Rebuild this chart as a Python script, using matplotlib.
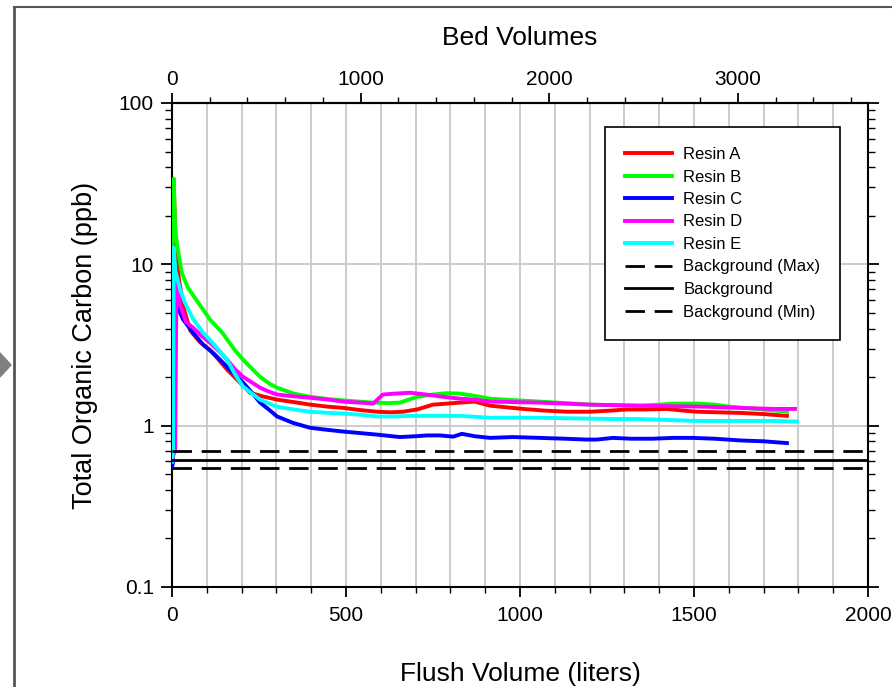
import matplotlib
matplotlib.use("Agg")
import matplotlib.pyplot as plt
from matplotlib.lines import Line2D
from matplotlib.patches import Polygon
from matplotlib.ticker import MultipleLocator, FixedLocator, NullFormatter, LogLocator

plt.rcParams['font.family'] = ['Liberation Sans', 'DejaVu Sans']

# ---------------- data ----------------
resin_a_x = [0, 3, 6, 10, 20, 35, 52, 80, 109, 135, 158, 190, 224, 260, 302, 350, 397, 450, 491, 540,
             589, 630, 664, 704, 750, 790, 828, 870, 914, 960, 1009, 1070, 1135, 1201, 1260, 1307, 1360,
             1422, 1470, 1509, 1570, 1632, 1700, 1767]
resin_a_y = [0.6, 12, 27, 13, 8, 5.2, 3.9, 3.3, 2.95, 2.55, 2.23, 1.9, 1.6, 1.52, 1.45, 1.40, 1.35, 1.31,
             1.29, 1.25, 1.22, 1.21, 1.22, 1.26, 1.35, 1.37, 1.39, 1.41, 1.33, 1.30, 1.27, 1.24, 1.22, 1.22,
             1.24, 1.26, 1.26, 1.27, 1.24, 1.22, 1.21, 1.20, 1.18, 1.15]

resin_b_x = [0, 2, 5, 9, 15, 28, 45, 75, 109, 144, 180, 204, 230, 253, 280, 302, 350, 397, 450, 500,
             578, 620, 655, 680, 704, 750, 790, 828, 870, 914, 980, 1057, 1130, 1201, 1270, 1345, 1400,
             1440, 1509, 1560, 1603, 1680, 1767]
resin_b_y = [0.6, 20, 34, 17, 13, 8.9, 7.2, 5.8, 4.55, 3.78, 2.95, 2.57, 2.25, 2.01, 1.82, 1.72, 1.58,
             1.51, 1.46, 1.43, 1.39, 1.38, 1.39, 1.45, 1.51, 1.56, 1.59, 1.58, 1.53, 1.47, 1.44, 1.41,
             1.38, 1.35, 1.34, 1.33, 1.35, 1.37, 1.37, 1.35, 1.31, 1.27, 1.22]

resin_c_x = [0, 3, 6, 12, 20, 32, 60, 89, 120, 158, 204, 230, 253, 280, 302, 348, 397, 450, 491, 540,
             589, 655, 700, 733, 770, 808, 833, 870, 914, 980, 1057, 1130, 1190, 1221, 1267, 1320, 1380,
             1440, 1497, 1560, 1632, 1700, 1767]
resin_c_y = [0.55, 0.6, 7.7, 6.0, 5.2, 4.55, 3.78, 3.18, 2.8, 2.32, 1.85, 1.6, 1.39, 1.25, 1.14, 1.04,
             0.97, 0.94, 0.92, 0.9, 0.88, 0.85, 0.86, 0.87, 0.87, 0.855, 0.89, 0.86, 0.84, 0.85, 0.84,
             0.83, 0.82, 0.82, 0.84, 0.83, 0.83, 0.84, 0.84, 0.83, 0.81, 0.80, 0.78]

resin_d_x = [0, 3, 9, 13, 23, 40, 60, 85, 109, 135, 158, 180, 204, 230, 253, 280, 302, 350, 397, 450,
             491, 540, 578, 590, 606, 640, 684, 730, 779, 828, 870, 914, 980, 1057, 1130, 1201, 1270,
             1345, 1440, 1537, 1630, 1727, 1790]
resin_d_y = [0.6, 0.65, 0.7, 8.4, 5.6, 4.4, 4.06, 3.6, 3.27, 2.9, 2.57, 2.25, 2.01, 1.85, 1.72, 1.62,
             1.56, 1.52, 1.49, 1.45, 1.41, 1.39, 1.37, 1.45, 1.56, 1.58, 1.60, 1.56, 1.51, 1.47, 1.45,
             1.41, 1.40, 1.39, 1.37, 1.35, 1.34, 1.33, 1.32, 1.31, 1.29, 1.27, 1.27]

resin_e_x = [0, 3, 5, 10, 23, 37, 60, 89, 120, 158, 180, 204, 230, 253, 280, 302, 350, 397, 450, 491,
             540, 589, 640, 684, 750, 828, 914, 990, 1057, 1150, 1267, 1330, 1393, 1450, 1509, 1600,
             1727, 1796]
resin_e_y = [0.6, 0.7, 12.7, 9.0, 7.0, 5.8, 4.6, 3.78, 3.2, 2.57, 2.1, 1.75, 1.58, 1.45, 1.37, 1.31,
             1.26, 1.22, 1.20, 1.19, 1.17, 1.14, 1.14, 1.15, 1.15, 1.15, 1.12, 1.12, 1.12, 1.11, 1.10,
             1.10, 1.09, 1.08, 1.07, 1.07, 1.07, 1.06]

background_max = 0.70
background_mean = 0.615
background_min = 0.548
bg_x = [0, 2000]

series_names = ['Resin A', 'Resin B', 'Resin C', 'Resin D', 'Resin E']
series_colors = ['#ff0000', '#00ff00', '#0000ff', '#ff00ff', '#00ffff']
bv_per_liter = 1.845

# ---------------- figure ----------------
fig = plt.figure(figsize=(8.92, 6.87), dpi=100)
ax = fig.add_axes([172 / 892, 1 - 587 / 687, (868 - 172) / 892, (587 - 103) / 687])

ax.set_yscale('log')
ax.set_xlim(0, 2000)
ax.set_ylim(0.1, 100)

# grid: vertical every 100 L, horizontal at decades
for gx in range(100, 2000, 100):
    ax.axvline(gx, color='#c8c8c8', lw=1.3, zorder=0)
for gy in [1, 10]:
    ax.axhline(gy, color='#c8c8c8', lw=1.3, zorder=0)

all_x = [resin_a_x, resin_b_x, resin_c_x, resin_d_x, resin_e_x]
all_y = [resin_a_y, resin_b_y, resin_c_y, resin_d_y, resin_e_y]
handles = []
for xs, ys, name, col in zip(all_x, all_y, series_names, series_colors):
    h, = ax.plot(xs, ys, color=col, lw=2.8, label=name, solid_joinstyle='round', zorder=3)
    handles.append(h)

h1, = ax.plot(bg_x, [background_max] * 2, color='black', lw=2.0, dashes=(7, 3.5),
              label='Background (Max)', zorder=4)
h2, = ax.plot(bg_x, [background_mean] * 2, color='black', lw=2.0, label='Background', zorder=4)
h3, = ax.plot(bg_x, [background_min] * 2, color='black', lw=2.0, dashes=(7, 3.5),
              label='Background (Min)', zorder=4)
handles += [h1, h2, h3]

# spines & ticks
for sp in ax.spines.values():
    sp.set_linewidth(1.5)
ax.xaxis.set_major_locator(MultipleLocator(500))
ax.xaxis.set_minor_locator(MultipleLocator(100))
ax.tick_params(axis='x', which='major', direction='out', length=7, width=1.3, labelsize=15, pad=7)
ax.tick_params(axis='x', which='minor', direction='out', length=4, width=1.0)
ax.yaxis.set_minor_locator(LogLocator(base=10, subs=range(2, 10), numticks=20))
ax.yaxis.set_minor_formatter(NullFormatter())
ax.set_yticks([0.1, 1, 10, 100])
ax.set_yticklabels(['0.1', '1', '10', '100'])
ax.tick_params(axis='y', which='major', direction='out', length=8, width=1.3, labelsize=15, pad=5,
               right=True)
ax.tick_params(axis='y', which='minor', direction='out', length=5, width=1.0, right=True)
ax.tick_params(axis='y', which='both', labelright=False)

ax.set_xlabel('Flush Volume (liters)', fontsize=19, labelpad=26)
ax.set_ylabel('Total Organic Carbon (ppb)', fontsize=19.5, labelpad=15)

# top secondary axis: bed volumes
sec = ax.secondary_xaxis('top', functions=(lambda x: x * bv_per_liter, lambda b: b / bv_per_liter))
sec.xaxis.set_major_locator(FixedLocator([0, 1000, 2000, 3000]))
sec.xaxis.set_minor_locator(MultipleLocator(200))
sec.tick_params(axis='x', which='major', direction='out', length=7, width=1.3, labelsize=15, pad=3)
sec.tick_params(axis='x', which='minor', direction='out', length=4, width=1.0)
sec.set_xlabel('Bed Volumes', fontsize=19, labelpad=18)
sec.spines['top'].set_linewidth(1.5)

leg = ax.legend(handles=handles, loc='upper left', bbox_to_anchor=((605 - 172) / 696, (587 - 127) / 484),
                fontsize=12, frameon=True, fancybox=False, edgecolor='black', framealpha=1,
                handlelength=2.8, handletextpad=0.7, borderpad=1.2, labelspacing=0.45,
                borderaxespad=0)
leg.get_frame().set_linewidth(1.2)

# outer frame of the page and side marker
fig.add_artist(Line2D([14 / 892, 14 / 892], [0, 1 - 7 / 687], color='#555555', lw=2.0,
                      transform=fig.transFigure))
fig.add_artist(Line2D([14 / 892, 1], [1 - 7 / 687, 1 - 7 / 687], color='#555555', lw=1.5,
                      transform=fig.transFigure))
fig.add_artist(Polygon([[0, 1 - 353 / 687], [11 / 892, 1 - 365 / 687], [0, 1 - 377 / 687]],
                       closed=True, color='#808080', transform=fig.transFigure))

fig.savefig('out.png', dpi=100)
